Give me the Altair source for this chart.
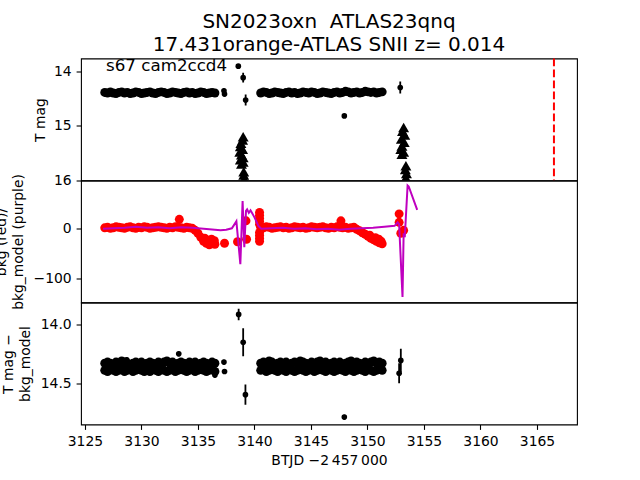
import altair as alt
import pandas as pd

# ---------------- data ----------------
band_time = [
    3126.75, 3127.00, 3127.25, 3127.50, 3127.75, 3128.00, 3128.25, 3128.50, 3128.75, 3129.00,
    3129.25, 3129.50, 3129.75, 3130.00, 3130.25, 3130.50, 3130.75, 3131.00, 3131.25, 3131.50,
    3131.75, 3132.00, 3132.25, 3132.50, 3132.75, 3133.00, 3133.25, 3133.50, 3133.75, 3134.00,
    3134.25, 3134.50, 3134.75, 3135.00, 3135.25, 3135.50, 3135.75, 3136.00, 3136.25, 3136.50,
    3140.55, 3140.80, 3141.05, 3141.30, 3141.55, 3141.80, 3142.05, 3142.30, 3142.55, 3142.80,
    3143.05, 3143.30, 3143.55, 3143.80, 3144.05, 3144.30, 3144.55, 3144.80, 3145.05, 3145.30,
    3145.55, 3145.80, 3146.05, 3146.30, 3146.55, 3146.80, 3147.05, 3147.30, 3147.55, 3147.80,
    3148.05, 3148.30, 3148.55, 3148.80, 3149.05, 3149.30, 3149.55, 3149.80, 3150.05, 3150.30,
    3150.55, 3150.80, 3151.05, 3151.30,
]
top_band_mag = [
    14.39, 14.40, 14.38, 14.40, 14.41, 14.39, 14.38, 14.40, 14.39, 14.41,
    14.40, 14.38, 14.39, 14.41, 14.40, 14.39, 14.38, 14.40, 14.41, 14.39,
    14.38, 14.39, 14.41, 14.40, 14.38, 14.39, 14.40, 14.41, 14.39, 14.38,
    14.40, 14.39, 14.41, 14.40, 14.38, 14.39, 14.41, 14.40, 14.39, 14.40,
    14.40, 14.38, 14.39, 14.41, 14.40, 14.38, 14.39, 14.40, 14.41, 14.39,
    14.38, 14.40, 14.39, 14.41, 14.40, 14.38, 14.39, 14.40, 14.38, 14.39,
    14.41, 14.40, 14.38, 14.39, 14.40, 14.41, 14.39, 14.38, 14.40, 14.39,
    14.37, 14.38, 14.40, 14.39, 14.38, 14.40, 14.39, 14.37, 14.38, 14.39,
    14.38, 14.40, 14.39, 14.38,
]
bkg_band = [
    1, 2, 0, 1, 3, 2, 1, 0, 2, 3,
    1, 0, 2, 1, 3, 2, 0, 1, 2, 3,
    2, 1, 0, 2, 1, 3, 2, 1, 0, 2,
    1, 0, -4, -10, -18, -26, -30, -33, -31, -32,
    2, 1, 3, 2, 0, 1, 2, 3, 1, 2,
    0, 1, 3, 2, 1, 2, 0, 1, 3, 2,
    1, 2, 3, 1, 0, 2, 1, 3, 2, 1,
    2, 0, 1, 2, -2, -5, -9, -12, -16, -20,
    -23, -26, -29, -31,
]
# difference light curve: upper and lower envelope of the dense band
diff_band_hi = [
    14.33, 14.32, 14.33, 14.34, 14.32, 14.33, 14.31, 14.32, 14.33, 14.34,
    14.33, 14.32, 14.33, 14.32, 14.34, 14.33, 14.32, 14.33, 14.34, 14.32,
    14.33, 14.32, 14.31, 14.33, 14.32, 14.34, 14.33, 14.32, 14.33, 14.34,
    14.32, 14.33, 14.32, 14.34, 14.33, 14.32, 14.33, 14.34, 14.32, 14.33,
    14.33, 14.32, 14.33, 14.31, 14.32, 14.34, 14.33, 14.32, 14.33, 14.32,
    14.34, 14.33, 14.32, 14.33, 14.31, 14.32, 14.33, 14.34, 14.32, 14.33,
    14.32, 14.31, 14.33, 14.32, 14.34, 14.33, 14.32, 14.33, 14.32, 14.34,
    14.33, 14.32, 14.31, 14.33, 14.32, 14.33, 14.34, 14.32, 14.33, 14.32,
    14.31, 14.33, 14.32, 14.33,
]
diff_band_lo = [
    14.39, 14.40, 14.38, 14.39, 14.40, 14.39, 14.38, 14.40, 14.39, 14.38,
    14.40, 14.39, 14.38, 14.39, 14.40, 14.39, 14.40, 14.38, 14.39, 14.40,
    14.38, 14.39, 14.40, 14.39, 14.38, 14.40, 14.39, 14.38, 14.39, 14.40,
    14.39, 14.38, 14.40, 14.39, 14.38, 14.39, 14.40, 14.39, 14.38, 14.40,
    14.39, 14.38, 14.40, 14.39, 14.38, 14.39, 14.40, 14.38, 14.39, 14.40,
    14.38, 14.39, 14.40, 14.39, 14.38, 14.39, 14.40, 14.39, 14.38, 14.40,
    14.39, 14.38, 14.39, 14.40, 14.38, 14.39, 14.40, 14.39, 14.38, 14.39,
    14.40, 14.38, 14.39, 14.40, 14.39, 14.38, 14.39, 14.40, 14.38, 14.39,
    14.40, 14.39, 14.38, 14.39,
]

# isolated detections, top panel
top_iso_time = [3137.30, 3137.35, 3138.57, 3139.00, 3139.22, 3147.95, 3152.90]
top_iso_mag = [14.36, 14.42, 13.91, 14.12, 14.53, 14.82, 14.30]
top_iso_err = [0.04, 0.04, 0.02, 0.09, 0.10, 0.02, 0.11]

# upper limits (triangles), top panel
lim_time = [3139.00, 3138.95, 3138.80, 3138.75, 3138.95, 3138.70, 3138.85, 3139.00, 3138.75,
            3139.00, 3138.85, 3139.05, 3139.05, 3139.10,
            3153.20, 3153.10, 3153.30, 3153.00, 3153.25, 3153.05, 3152.95, 3153.20, 3153.05,
            3153.40, 3153.35, 3153.45, 3153.40]
lim_mag = [15.20, 15.26, 15.32, 15.38, 15.43, 15.48, 15.53, 15.58, 15.62,
           15.66, 15.70, 15.84, 15.90, 15.97,
           15.03, 15.10, 15.17, 15.24, 15.30, 15.37, 15.43, 15.48, 15.52,
           15.73, 15.80, 15.87, 15.95]

# explosion / reference epoch (red dashed line)
sn_time = [3166.5]

# extra background points, middle panel
bkg_extra_time = [3133.35, 3135.60, 3135.90, 3136.20, 3136.45, 3137.35, 3138.50, 3139.25, 3139.30,
                  3140.45, 3140.45, 3140.45, 3140.45, 3140.45, 3140.45, 3140.45, 3140.45, 3140.45,
                  3147.65, 3150.20, 3150.70, 3151.00, 3151.20,
                  3152.80, 3152.80, 3152.95, 3153.20]
bkg_extra_val = [18, -20, -24, -22, -25, -30, -27, 15, -22,
                 32, 26, 20, 14, 8, -8, -14, -20, -26,
                 15, -14, -19, -22, -26,
                 29, 12, -10, -4]

# background model (purple line)
model_time = [3126.6, 3127.5, 3128.5, 3129.5, 3130.5, 3131.5, 3132.5, 3133.5, 3134.5, 3135.5,
              3136.5, 3137.0, 3137.5, 3138.0, 3138.4, 3138.75, 3138.95, 3139.1, 3139.25, 3139.35,
              3139.5, 3139.65, 3139.8, 3140.0, 3140.35, 3140.6, 3141.5, 3142.5, 3143.5, 3144.5,
              3145.5, 3146.5, 3147.5, 3148.5, 3149.5, 3150.5, 3151.5, 3152.4, 3152.67, 3152.8,
              3153.1, 3153.2, 3153.3, 3153.55, 3153.65, 3154.4]
model_val = [-1, 0, 1, 3, 1, 2, 0, 2, 1, -1,
             -3, -4, -3, 0, 14, -72, 55, -38, 35, 38,
             31, 36, 30, 22, 5, -1, 0, 1, -1, 0,
             -2, -1, -3, -1, 0, 1, 3, 5, 12, 8,
             -138, -10, -18, 86, 84, 37]

# isolated detections, bottom panel
diff_iso_time = [3128.70, 3133.30, 3136.50, 3137.30, 3137.35, 3138.60, 3139.00, 3139.20, 3147.95, 3152.95, 3152.80]
diff_iso_mag = [14.30, 14.25, 14.43, 14.32, 14.40, 13.916, 14.152, 14.596, 14.786, 14.306, 14.415]
diff_iso_err = [0.02, 0.02, 0.02, 0.02, 0.02, 0.049, 0.118, 0.085, 0.02, 0.10, 0.085]

panel_label = ["s67 cam2ccd4"]
title_lines = ["SN2023oxn\u00a0 ATLAS23qnq", "17.431orange-ATLAS SNII z= 0.014"]

x_ticks = [3125, 3130, 3135, 3140, 3145, 3150, 3155, 3160, 3165]
top_ticks = [14, 15, 16]
mid_ticks = [0, -100]
bot_ticks = [14.0, 14.5]

# ---------------- frames ----------------
df_top_band = pd.DataFrame({"t": band_time, "m": top_band_mag})
df_top_iso = pd.DataFrame({"t": top_iso_time, "m": top_iso_mag, "e": top_iso_err})
df_top_iso["lo"] = df_top_iso["m"] - df_top_iso["e"]
df_top_iso["hi"] = df_top_iso["m"] + df_top_iso["e"]
df_lim = pd.DataFrame({"t": lim_time, "m": lim_mag})
df_sn = pd.DataFrame({"t": sn_time})
df_label = pd.DataFrame({"label": panel_label})

df_bkg = pd.DataFrame({"t": band_time + bkg_extra_time, "v": bkg_band + bkg_extra_val})
df_model = pd.DataFrame({"t": model_time, "v": model_val})

df_diff_band = pd.DataFrame({"t": band_time + band_time, "m": diff_band_hi + diff_band_lo})
df_diff_iso = pd.DataFrame({"t": diff_iso_time, "m": diff_iso_mag, "e": diff_iso_err})
df_diff_iso["lo"] = df_diff_iso["m"] - df_diff_iso["e"]
df_diff_iso["hi"] = df_diff_iso["m"] + df_diff_iso["e"]

FONT = "DejaVu Sans"
W, H = 496, 122
PT = 32        # isolated markers (diameter ~5.7 px)
BAND = 80      # densely sampled markers (diameter ~9 px)
X_DOMAIN = [3124.65, 3168.54]
xs = alt.Scale(domain=X_DOMAIN, nice=False, zero=False)

AX = dict(labelFont=FONT, labelFontSize=13.9, labelColor="black",
          titleFont=FONT, titleFontSize=13.9, titleFontWeight="normal", titleColor="black",
          tickColor="black", tickSize=4.9, tickWidth=1.1, labelPadding=4.9,
          titlePadding=5.6, titleLineHeight=16.7, domain=False, grid=False)


def X(show=False):
    if show:
        return alt.X("t:Q", scale=xs,
                     axis=alt.Axis(values=x_ticks, format="d",
                                   title="BTJD \u22122\u2009457\u2009000", **AX))
    return alt.X("t:Q", scale=xs, axis=None)


top_scale = alt.Scale(domain=[13.77, 16.0], nice=False, zero=False, reverse=True)
top_axis = alt.Axis(values=top_ticks, format="d", title="T mag", **AX)
mid_scale = alt.Scale(domain=[-149, 96], nice=False, zero=False)
mid_axis = alt.Axis(values=mid_ticks, format="d", title=["bkg (red)/", "bkg_model (purple)"],
                    **{**AX, "titlePadding": 8})
bot_scale = alt.Scale(domain=[13.815, 14.849], nice=False, zero=False, reverse=True)
bot_axis = alt.Axis(values=bot_ticks, format=".1f", title=["T mag \u2212", "bkg_model"],
                    **{**AX, "titlePadding": 8})

# ---------------- top panel ----------------
t_band = alt.Chart(df_top_band).mark_circle(size=BAND, color="black", opacity=1, clip=True).encode(
    x=X(), y=alt.Y("m:Q", scale=top_scale, axis=top_axis))
t_err = alt.Chart(df_top_iso).mark_rule(color="black", strokeWidth=1.8, clip=True).encode(
    x=X(), y=alt.Y("lo:Q", scale=top_scale, axis=top_axis), y2="hi:Q")
t_iso = alt.Chart(df_top_iso).mark_circle(size=PT, color="black", opacity=1, clip=True).encode(
    x=X(), y=alt.Y("m:Q", scale=top_scale, axis=top_axis))
t_lim = alt.Chart(df_lim).mark_point(shape="triangle-up", filled=True, color="black", size=120,
                                     opacity=1, clip=True).encode(
    x=X(), y=alt.Y("m:Q", scale=top_scale, axis=top_axis))
t_sn = alt.Chart(df_sn).mark_rule(color="red", strokeDash=[7.7, 3.3], strokeWidth=2).encode(x=X())
t_txt = alt.Chart(df_label).mark_text(align="left", baseline="alphabetic", fontSize=16.7,
                                      font=FONT, color="black").encode(
    x=alt.value(25), y=alt.value(12.5), text="label:N")
top = alt.layer(t_band, t_err, t_iso, t_lim, t_sn, t_txt).properties(width=W, height=H)

# ---------------- middle panel ----------------
m_pts = alt.Chart(df_bkg).mark_circle(size=BAND, color="red", opacity=1, clip=True).encode(
    x=X(), y=alt.Y("v:Q", scale=mid_scale, axis=mid_axis))
m_line = alt.Chart(df_model).mark_line(color="#bf00bf", strokeWidth=2, clip=True).encode(
    x=X(), y=alt.Y("v:Q", scale=mid_scale, axis=mid_axis), order="t:Q")
mid = alt.layer(m_pts, m_line).properties(width=W, height=H)

# ---------------- bottom panel ----------------
b_band = alt.Chart(df_diff_band).mark_circle(size=BAND, color="black", opacity=1, clip=True).encode(
    x=X(True), y=alt.Y("m:Q", scale=bot_scale, axis=bot_axis))
b_err = alt.Chart(df_diff_iso).mark_rule(color="black", strokeWidth=1.8, clip=True).encode(
    x=X(True), y=alt.Y("lo:Q", scale=bot_scale, axis=bot_axis), y2="hi:Q")
b_iso = alt.Chart(df_diff_iso).mark_circle(size=PT, color="black", opacity=1, clip=True).encode(
    x=X(True), y=alt.Y("m:Q", scale=bot_scale, axis=bot_axis))
bot = alt.layer(b_band, b_err, b_iso).properties(width=W, height=H)

chart = alt.vconcat(top, mid, bot, spacing=0, bounds="flush").resolve_scale(
    x="independent", y="independent"
).properties(
    title=alt.TitleParams(title_lines, fontSize=20, font=FONT, fontWeight="normal",
                          anchor="middle", frame="group", lineHeight=23, offset=2,
                          color="black"),
    padding={"left": -7, "top": 11.5, "right": 10, "bottom": 5},
    background="white",
).configure_view(
    stroke="black", strokeWidth=1.1
).configure_axis(**AX)

chart.save("out.html", embed_options={"renderer": "svg", "actions": False})
